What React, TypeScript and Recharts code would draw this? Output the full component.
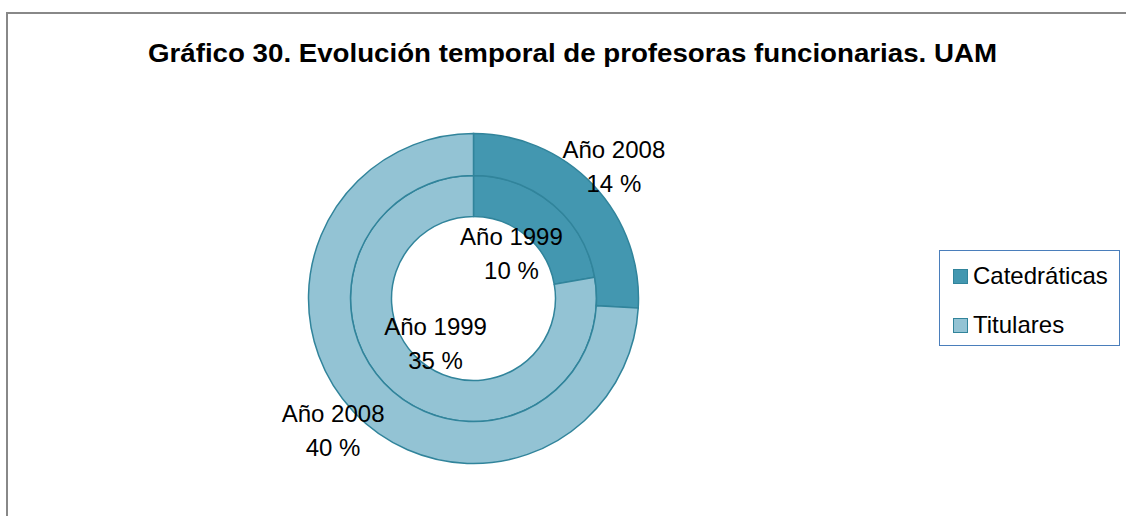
import { PieChart, Pie, Cell, Legend } from "recharts";

const categories = ["Catedráticas", "Titulares"];
const values1999 = [10, 35];
const values2008 = [14, 40];
const yearLabels = ["Año 1999", "Año 2008"];
const title = "Gráfico 30. Evolución temporal de profesoras funcionarias. UAM";

const COLORS = ["#4397B0", "#93C3D4"];
const STROKE = "#31849B";
const FONT = "'Liberation Sans', Arial, sans-serif";

const data1999 = categories.map((name, i) => ({ name, value: values1999[i] }));
const data2008 = categories.map((name, i) => ({ name, value: values2008[i] }));

const RAD = Math.PI / 180;

function makeLabel(year: string, r: number) {
  return (props: any) => {
    const { cx, cy, midAngle, value } = props;
    const x = cx + r * Math.cos(-midAngle * RAD);
    const y = cy + r * Math.sin(-midAngle * RAD);
    return (
      <text x={x} y={y} textAnchor="middle" fill="#000" fontSize={24} fontFamily={FONT}>
        <tspan x={x} y={y - 8.5}>{year}</tspan>
        <tspan x={x} y={y + 25.5}>{value} %</tspan>
      </text>
    );
  };
}

function LegendBox(props: any) {
  const seen = new Set<string>();
  const items = (props.payload || []).filter((p: any) => {
    if (seen.has(p.value)) return false;
    seen.add(p.value);
    return true;
  });
  return (
    <div
      style={{
        width: 179,
        height: 94,
        border: "1.5px solid #4A7EBB",
        boxSizing: "content-box",
        fontFamily: FONT,
        fontSize: 24,
        color: "#000",
        position: "relative",
      }}
    >
      {items.map((it: any, i: number) => (
        <div key={it.value} style={{ position: "absolute", left: 13, top: 11 + i * 49, display: "flex", alignItems: "center", lineHeight: "28px" }}>
          <span style={{ display: "inline-block", width: 13, height: 13, background: COLORS[i], border: `1.5px solid ${STROKE}`, marginRight: 5 }} />
          <span>{it.value}</span>
        </div>
      ))}
    </div>
  );
}

export default function App() {
  return (
    <div style={{ position: "absolute", left: 0, top: 0, width: 1126, height: 516, background: "#fff", overflow: "hidden" }}>
      <svg width={1126} height={516} style={{ position: "absolute", left: 0, top: 0 }}>
        <line x1={7} y1={13} x2={1126} y2={13} stroke="#888" strokeWidth={2} />
        <line x1={7} y1={12} x2={7} y2={516} stroke="#888" strokeWidth={2} />
        <text x={572.5} y={62} textAnchor="middle" fontFamily={FONT} fontWeight="bold" fontSize={25} textLength={849} lengthAdjust="spacingAndGlyphs">
          {title}
        </text>
      </svg>
      <div style={{ position: "absolute", left: 0, top: 0 }}>
        <PieChart width={1126} height={516} margin={{ top: 0, right: 0, bottom: 0, left: 0 }}>
          <Pie
            data={data1999}
            dataKey="value"
            nameKey="name"
            cx={473.5}
            cy={298.5}
            innerRadius={82}
            outerRadius={123}
            startAngle={90}
            endAngle={-270}
            stroke={STROKE}
            strokeWidth={1.5}
            label={makeLabel(yearLabels[0], 59)}
            labelLine={false}
            isAnimationActive={false}
          >
            {data1999.map((d, i) => (
              <Cell key={d.name} fill={COLORS[i]} />
            ))}
          </Pie>
          <Pie
            data={data2008}
            dataKey="value"
            nameKey="name"
            cx={473.5}
            cy={298.5}
            innerRadius={123}
            outerRadius={165}
            startAngle={90}
            endAngle={-270}
            stroke={STROKE}
            strokeWidth={1.5}
            label={makeLabel(yearLabels[1], 193)}
            labelLine={false}
            isAnimationActive={false}
          >
            {data2008.map((d, i) => (
              <Cell key={d.name} fill={COLORS[i]} />
            ))}
          </Pie>
          <Legend
            content={<LegendBox />}
            wrapperStyle={{ left: 939, top: 250, width: 183, height: 97 }}
          />
        </PieChart>
      </div>
    </div>
  );
}
